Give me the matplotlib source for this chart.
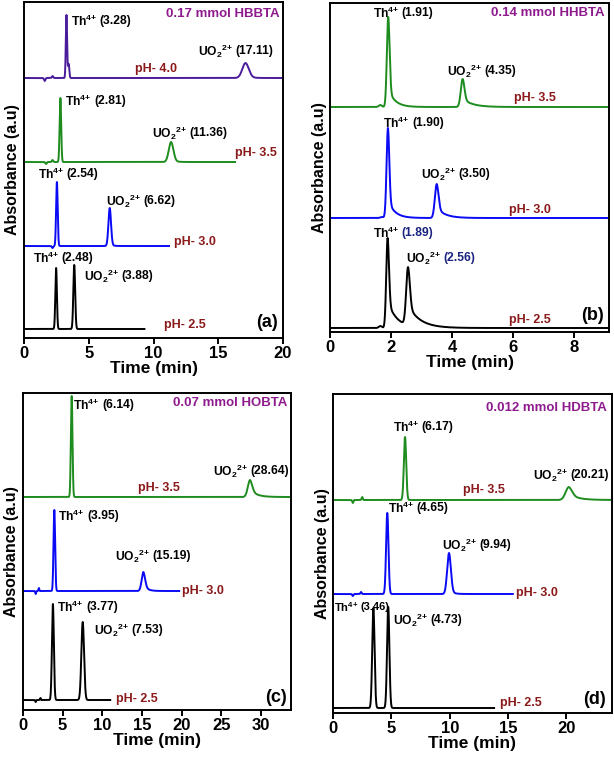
import numpy as np
import matplotlib
matplotlib.use("Agg")
import matplotlib.pyplot as plt

plt.rcParams['font.family'] = ['Liberation Sans', 'DejaVu Sans']
plt.rcParams['font.weight'] = 'bold'
plt.rcParams['mathtext.fontset'] = 'custom'
plt.rcParams['mathtext.rm'] = 'Liberation Sans:bold'
plt.rcParams['mathtext.bf'] = 'Liberation Sans:bold'
plt.rcParams['mathtext.it'] = 'Liberation Sans:bold'

W, H = 614, 767
COL_TRACE = ['black', '#0A0AF5', '#1E8C1E', '#4A1B9A']
COL_PH = '#8B1A1A'
COL_TITLE = '#8E1B8E'
COL_NAVY = '#1A237E'

# ---------------- data (retention times in min, heights in a.u.) ----------------
# panel (a) 0.17 mmol HBBTA
A_PH = ['pH- 2.5', 'pH- 3.0', 'pH- 3.5', 'pH- 4.0']
A_TH_RT = [2.48, 2.54, 2.81, 3.28]
A_U_RT = [3.88, 6.62, 11.36, 17.11]
A_BASE = [9, 92, 176, 260]
A_TH_H = [61, 64, 64, 63]
A_U_H = [64, 38, 20, 15]
A_TH_W = [0.06, 0.06, 0.06, 0.05]
A_U_W = [0.07, 0.10, 0.18, 0.25]
A_END = [9.3, 11.2, 16.3, 20.0]

# panel (b) 0.14 mmol HHBTA
B_PH = ['pH- 2.5', 'pH- 3.0', 'pH- 3.5']
B_TH_RT = [1.89, 1.90, 1.91]
B_U_RT = [2.56, 3.50, 4.35]
B_BASE = [4, 114, 225]
B_TH_H = [90, 90, 90]
B_U_H = [58, 34, 28]
B_TH_W = [0.045, 0.045, 0.045]
B_U_W = [0.06, 0.06, 0.06]
B_END = [9.15, 9.15, 9.15]

# panel (c) 0.07 mmol HOBTA
C_PH = ['pH- 2.5', 'pH- 3.0', 'pH- 3.5']
C_TH_RT = [3.77, 3.95, 6.14]
C_U_RT = [7.53, 15.19, 28.64]
C_BASE = [10, 119, 213]
C_TH_H = [96, 81, 101]
C_U_H = [78, 19, 17]
C_TH_W = [0.12, 0.10, 0.10]
C_U_W = [0.17, 0.22, 0.28]
C_END = [11.0, 19.7, 33.6]

# panel (d) 0.012 mmol HDBTA
D_PH = ['pH- 2.5', 'pH- 3.0', 'pH- 3.5']
D_TH_RT = [3.46, 4.65, 6.17]
D_U_RT = [4.73, 9.94, 20.21]
D_BASE = [5, 119, 213]
D_TH_H = [100, 81, 63]
D_U_H = [101, 41, 13]
D_TH_W = [0.10, 0.10, 0.10]
D_U_W = [0.10, 0.16, 0.28]
D_END = [13.8, 15.4, 24.0]

# tailing (fraction, decay constant in min) for each trace: Th, U
A_TAIL = [(0.0, 0.1, 0.0, 0.1), (0.0, 0.1, 0.05, 0.2), (0.0, 0.1, 0.1, 0.3), (0.0, 0.1, 0.1, 0.4)]
B_TAIL = [(0.3, 0.30, 0.35, 0.40), (0.2, 0.22, 0.3, 0.28), (0.2, 0.22, 0.3, 0.32)]
C_TAIL = [(0.0, 0.1, 0.0, 0.1), (0.0, 0.1, 0.35, 0.45), (0.0, 0.1, 0.45, 0.8)]
D_TAIL = [(0.0, 0.1, 0.0, 0.1), (0.0, 0.1, 0.1, 0.3), (0.0, 0.1, 0.45, 0.8)]

# small injection blips (time, amplitude) per trace
A_BLIPS = [[], [(2.2, -2)], [(1.7, -2), (2.2, 2)], [(1.6, -3), (2.2, 2), (3.45, 14)]]
B_BLIPS = [[(1.65, 2)], [(1.7, 1)], [(1.65, 2)]]
C_BLIPS = [[(1.6, -2), (2.2, 2)], [(1.6, -3), (2.0, 3)], []]
D_BLIPS = [[], [(1.7, -2), (2.4, 2)], [(1.7, -3), (2.5, 3)]]


def peak(t, c, h, s, a, tau):
    dx = t - c
    g = np.exp(-0.5 * (dx / s) ** 2)
    right = (1 - a) * g + a * np.exp(-np.clip(dx, 0, None) / tau)
    return h * np.where(dx < 0, g, right)


def trace(end, base, th, thh, thw, u, uh, uw, tail, blips):
    t = np.linspace(0, end, 6000)
    y = np.full_like(t, float(base))
    y += peak(t, th, thh, thw, tail[0], tail[1])
    y += peak(t, u, uh, uw, tail[2], tail[3])
    for bt, ba in blips:
        y += ba * np.exp(-0.5 * ((t - bt) / 0.05) ** 2)
    return t, y


def make_ax(l, r, top, bot):
    ax = fig.add_axes([l / W, 1 - bot / H, (r - l) / W, (bot - top) / H])
    ax.set_ylim(0, bot - top)
    for sp in ax.spines.values():
        sp.set_linewidth(1.4)
    ax.set_yticks([])
    ax.tick_params(axis='x', direction='out', length=4, width=1.4, labelsize=12, pad=2)
    ax.set_xlabel('Time (min)', fontsize=12.5, fontweight='bold', labelpad=0)
    ax.set_ylabel('Absorbance (a.u)', fontsize=11.5, fontweight='bold', labelpad=3)
    return ax


def label(ax, x, y, ion, num, num_color='black', fs=8.7):
    if ion == 'Th':
        s = r'Th$^{4{+}}$'
    else:
        s = r'UO$_{2}$$^{2{+}}$'
    t1 = ax.text(x, y, s, fontsize=fs, fontweight='bold', va='center', ha='left', color='black')
    ax.annotate(num, xy=(1, 0.5), xycoords=t1, xytext=(1.8, 0), textcoords='offset points',
                va='center', ha='left', fontsize=fs, fontweight='bold', color=num_color)


def ph(ax, x, y, s):
    ax.text(x, y, s, color=COL_PH, fontsize=9, fontweight='bold', va='center')


def draw_panel(ax, end, base, th, thh, thw, u, uh, uw, tail, blips, colors):
    for i in range(len(base)):
        t, y = trace(end[i], base[i], th[i], thh[i], thw[i], u[i], uh[i], uw[i], tail[i], blips[i])
        ax.plot(t, y, color=colors[i], lw=1.4)


fig = plt.figure(figsize=(W / 100, H / 100), dpi=100)

# ---------- (a) ----------
ax = make_ax(24, 283, 2, 338)
draw_panel(ax, A_END, A_BASE, A_TH_RT, A_TH_H, A_TH_W, A_U_RT, A_U_H, A_U_W, A_TAIL, A_BLIPS, COL_TRACE)
ax.set_xlim(0, 20)
ax.set_xticks([0, 5, 10, 15, 20])
ax.text(19.75, 324, '0.17 mmol HBBTA', color=COL_TITLE, fontsize=9.5, fontweight='bold', ha='right', va='center')
label(ax, 3.6, 317, 'Th', '(3.28)')
label(ax, 13.4, 287, 'U', '(17.11)')
ph(ax, 8.6, 269, A_PH[3])
label(ax, 3.2, 237, 'Th', '(2.81)')
label(ax, 9.9, 205, 'U', '(11.36)')
ph(ax, 16.3, 185, A_PH[2])
label(ax, 1.05, 164, 'Th', '(2.54)')
label(ax, 6.35, 137, 'U', '(6.62)')
ph(ax, 11.6, 96, A_PH[1])
label(ax, 0.66, 80, 'Th', '(2.48)')
label(ax, 4.6, 62, 'U', '(3.88)')
ph(ax, 10.8, 13, A_PH[0])
ax.text(19.6, 15, '(a)', fontsize=13, fontweight='bold', ha='right', va='center')

# ---------- (b) ----------
ax = make_ax(330, 609, 3, 332)
ax.yaxis.labelpad = 2
draw_panel(ax, B_END, B_BASE, B_TH_RT, B_TH_H, B_TH_W, B_U_RT, B_U_H, B_U_W, B_TAIL, B_BLIPS, COL_TRACE)
ax.set_xlim(0, 9.15)
ax.set_xticks([0, 2, 4, 6, 8])
ax.text(9.0, 319, '0.14 mmol HHBTA', color=COL_TITLE, fontsize=9.5, fontweight='bold', ha='right', va='center')
label(ax, 1.4, 319, 'Th', '(1.91)')
label(ax, 3.83, 261, 'U', '(4.35)')
ph(ax, 6.03, 234, B_PH[2])
label(ax, 1.74, 209, 'Th', '(1.90)')
label(ax, 3.0, 158, 'U', '(3.50)')
ph(ax, 5.87, 122, B_PH[1])
label(ax, 1.4, 99, 'Th', '(1.89)', COL_NAVY)
label(ax, 2.5, 74, 'U', '(2.56)', COL_NAVY)
ph(ax, 5.87, 12, B_PH[0])
ax.text(8.98, 17, '(b)', fontsize=13, fontweight='bold', ha='right', va='center')

# ---------- (c) ----------
ax = make_ax(23, 291, 393, 710)
draw_panel(ax, C_END, C_BASE, C_TH_RT, C_TH_H, C_TH_W, C_U_RT, C_U_H, C_U_W, C_TAIL, C_BLIPS, COL_TRACE)
ax.set_xlim(0, 33.8)
ax.set_xticks([0, 5, 10, 15, 20, 25, 30])
ax.text(33.3, 307, '0.07 mmol HOBTA', color=COL_TITLE, fontsize=9.5, fontweight='bold', ha='right', va='center')
label(ax, 6.35, 305, 'Th', '(6.14)')
label(ax, 24.0, 239, 'U', '(28.64)')
ph(ax, 14.5, 222, C_PH[2])
label(ax, 4.45, 194, 'Th', '(3.95)')
label(ax, 11.6, 154, 'U', '(15.19)')
ph(ax, 20.05, 119, C_PH[1])
label(ax, 4.35, 103, 'Th', '(3.77)')
label(ax, 8.9, 80, 'U', '(7.53)')
ph(ax, 11.75, 11, C_PH[0])
ax.text(33.3, 12, '(c)', fontsize=13, fontweight='bold', ha='right', va='center')

# ---------- (d) ----------
ax = make_ax(333, 612, 394, 713)
ax.yaxis.labelpad = 2
draw_panel(ax, D_END, D_BASE, D_TH_RT, D_TH_H, D_TH_W, D_U_RT, D_U_H, D_U_W, D_TAIL, D_BLIPS, COL_TRACE)
ax.set_xlim(0, 23.9)
ax.set_xticks([0, 5, 10, 15, 20])
ax.text(23.45, 305, '0.012 mmol HDBTA', color=COL_TITLE, fontsize=9.5, fontweight='bold', ha='right', va='center')
label(ax, 5.1, 286, 'Th', '(6.17)')
label(ax, 17.1, 238, 'U', '(20.21)')
ph(ax, 11.1, 223, D_PH[2])
label(ax, 4.7, 205, 'Th', '(4.65)')
label(ax, 9.3, 168, 'U', '(9.94)')
ph(ax, 15.7, 120, D_PH[1])
label(ax, 0.05, 106, 'Th', '(3.46)', fs=8)
label(ax, 5.1, 93, 'U', '(4.73)')
ph(ax, 14.3, 10, D_PH[0])
ax.text(23.4, 13, '(d)', fontsize=13, fontweight='bold', ha='right', va='center')

fig.savefig('out.png', dpi=100)
